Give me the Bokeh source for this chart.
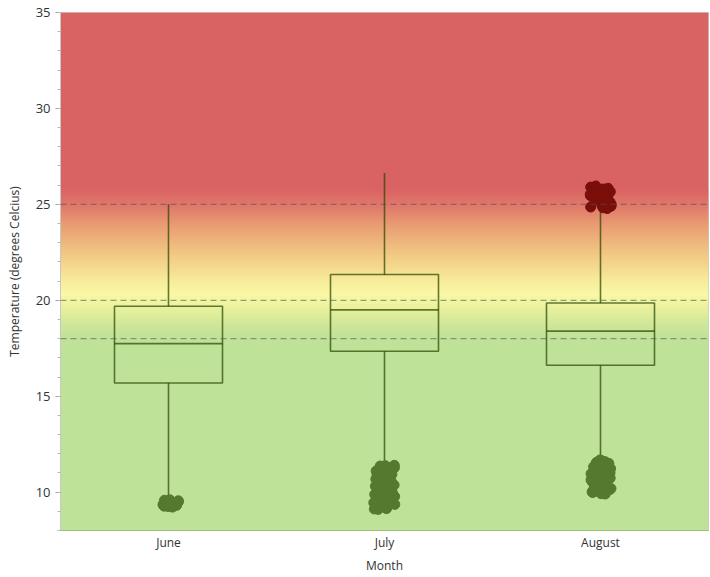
from bokeh.plotting import figure
from bokeh.models import (ColumnDataSource, BoxAnnotation, Span, SingleIntervalTicker)
from bokeh.transform import dodge, jitter
from bokeh.embed import file_html
from bokeh.resources import INLINE

# ---------------- data ----------------
months = ["June", "July", "August"]
q1 = [15.69, 17.34, 16.61]
median = [17.74, 19.50, 18.39]
q3 = [19.69, 21.34, 19.86]
upper = [25.0, 26.63, 24.7]
lower = [9.6, 11.4, 11.7]

june_out = [9.22, 9.25, 9.28, 9.30, 9.31, 9.33, 9.35, 9.36, 9.38, 9.40, 9.42, 9.44,
            9.45, 9.47, 9.49, 9.50, 9.52, 9.55, 9.58, 9.60, 9.27, 9.34, 9.41, 9.48]
july_out = [9.10, 9.14, 9.18, 9.21, 9.26, 9.30, 9.33, 9.38, 9.42, 9.47, 9.51, 9.55,
            9.60, 9.63, 9.68, 9.72, 9.77, 9.81, 9.85, 9.90, 9.94, 9.98, 10.03, 10.07,
            10.11, 10.15, 10.20, 10.24, 10.28, 10.33, 10.37, 10.41, 10.46, 10.50, 10.54,
            10.58, 10.63, 10.67, 10.71, 10.76, 10.80, 10.84, 10.88, 10.93, 10.97, 11.01,
            11.06, 11.10, 11.14, 11.19, 11.23, 11.27, 11.31, 11.36, 11.40, 9.16, 9.36,
            9.57, 9.79, 10.01, 10.22, 10.44, 10.65, 10.86, 11.08, 11.29, 9.24, 9.66,
            10.09, 10.52, 10.95, 11.17, 9.45, 9.88, 10.31, 10.74, 11.12, 9.12, 11.38]
aug_out_low = [9.90, 9.94, 9.98, 10.02, 10.06, 10.11, 10.15, 10.19, 10.24, 10.28,
               10.33, 10.37, 10.42, 10.46, 10.51, 10.55, 10.60, 10.64, 10.69, 10.73,
               10.78, 10.82, 10.87, 10.91, 10.96, 11.00, 11.05, 11.09, 11.14, 11.18,
               11.23, 11.27, 11.32, 11.36, 11.41, 11.45, 11.50, 11.54, 11.59, 11.63,
               11.68, 10.04, 10.35, 10.66, 10.98, 11.29, 11.56, 10.21, 10.79, 11.38,
               9.92, 10.13, 10.48, 10.85, 11.21, 11.61]
aug_out_high = [24.78, 24.82, 24.86, 24.90, 24.93, 24.97, 25.01, 25.05, 25.09, 25.13,
                25.17, 25.22, 25.26, 25.31, 25.35, 25.40, 25.45, 25.50, 25.55, 25.60,
                25.66, 25.72, 25.78, 25.84, 25.90, 25.96, 24.88, 25.03, 25.19, 25.37,
                25.58, 25.80, 25.52, 25.47]

# ---------------- figure ----------------
p = figure(x_range=months, y_range=(8, 35), width=709, height=576,
           output_backend="svg", toolbar_location=None,
           min_border_left=60, min_border_right=1, min_border_top=12,
           min_border_bottom=46)
p.background_fill_color = "#bfe299"
p.border_fill_color = "white"
p.outline_line_color = "#c8c8c8"
p.xgrid.visible = False
p.ygrid.visible = False

# background gradient (bands)
stops = [
    (8.0, (191, 226, 153)),
    (18.0, (191, 226, 153)),
    (18.7, (205, 230, 152)),
    (19.5, (230, 240, 156)),
    (20.3, (249, 248, 166)),
    (21.0, (247, 236, 155)),
    (22.0, (243, 210, 138)),
    (23.0, (238, 184, 124)),
    (24.0, (232, 153, 114)),
    (25.0, (223, 118, 106)),
    (25.8, (217, 99, 99)),
    (35.0, (217, 99, 99)),
]


def col_at(v):
    for (a, ca), (b, cb) in zip(stops[:-1], stops[1:]):
        if a <= v <= b:
            t = (v - a) / (b - a) if b > a else 0
            c = [round(ca[i] + (cb[i] - ca[i]) * t) for i in range(3)]
            return "#%02x%02x%02x" % tuple(c)
    return "#bfe299"


p.add_layout(BoxAnnotation(bottom=25.8, top=None, fill_color="#d96363",
                           fill_alpha=1, line_color=None, level="underlay"))
step = 0.1
v = 18.0
while v < 25.8:
    c = col_at(v + step / 2)
    p.add_layout(BoxAnnotation(bottom=v, top=min(v + step + 0.06, 25.85),
                               fill_color=c, fill_alpha=1, line_color=None,
                               level="underlay"))
    v = round(v + step, 4)

# reference lines
for y in [25, 20, 18]:
    p.add_layout(Span(location=y, dimension="width", line_color="#505050",
                      line_alpha=0.55, line_dash="6 4", line_width=1.3))

src = ColumnDataSource(dict(month=months, q1=q1, median=median, q3=q3,
                            upper=upper, lower=lower))

box_col = "#2a4600"
box_alpha = 0.72
p.segment(x0="month", x1="month", y0="q3", y1="upper", source=src,
          line_color=box_col, line_alpha=box_alpha, line_width=1.6)
p.segment(x0="month", x1="month", y0="q1", y1="lower", source=src,
          line_color=box_col, line_alpha=box_alpha, line_width=1.6)
p.vbar(x="month", bottom="q1", top="q3", width=0.5, source=src,
       fill_alpha=0, line_color=box_col, line_alpha=box_alpha, line_width=1.6)
p.segment(x0=dodge("month", -0.25, range=p.x_range),
          x1=dodge("month", 0.25, range=p.x_range),
          y0="median", y1="median", source=src,
          line_color=box_col, line_alpha=box_alpha, line_width=1.6)

# outliers
low_src = ColumnDataSource(dict(
    month=["June"] * len(june_out) + ["July"] * len(july_out) + ["August"] * len(aug_out_low),
    temp=june_out + july_out + aug_out_low))
high_src = ColumnDataSource(dict(month=["August"] * len(aug_out_high), temp=aug_out_high))

p.scatter(x=jitter("month", width=0.1, range=p.x_range), y="temp", source=low_src,
          size=10, fill_color="#557a2f", line_color="#557a2f")
p.scatter(x=jitter("month", width=0.1, range=p.x_range), y="temp", source=high_src,
          size=10, fill_color="#7a0f0a", line_color="#7a0f0a")

# axes
font = "Open Sans"
p.yaxis.ticker = SingleIntervalTicker(interval=5, num_minor_ticks=5)
p.yaxis.axis_label = "Temperature (degrees Celcius)"
p.xaxis.axis_label = "Month"
for ax in [p.xaxis, p.yaxis]:
    ax.axis_label_text_font = font
    ax.axis_label_text_font_size = "12px"
    ax.axis_label_text_font_style = "normal"
    ax.axis_label_text_color = "#333333"
    ax.major_label_text_font = font
    ax.major_label_text_font_size = "13px"
    ax.major_label_text_color = "#333333"
p.xaxis.major_label_text_font_size = "12px"
p.yaxis.axis_line_color = "#c8c8c8"
p.yaxis.major_tick_line_color = "#a0a0a0"
p.yaxis.minor_tick_line_color = "#b8b8b8"
p.yaxis.major_tick_out = 5
p.yaxis.major_tick_in = 0
p.yaxis.minor_tick_out = 3
p.yaxis.minor_tick_in = 0
p.yaxis.axis_label_standoff = 10
p.xaxis.axis_line_color = "#9cc07c"
p.xaxis.major_tick_line_color = None
p.xaxis.minor_tick_line_color = None
p.xaxis.major_tick_out = 0
p.xaxis.major_tick_in = 0
p.xaxis.minor_tick_out = 0
p.xaxis.minor_tick_in = 0
p.xaxis.major_label_standoff = 3
p.xaxis.axis_label_standoff = 3

open("out.html", "w").write(file_html(p, INLINE))
